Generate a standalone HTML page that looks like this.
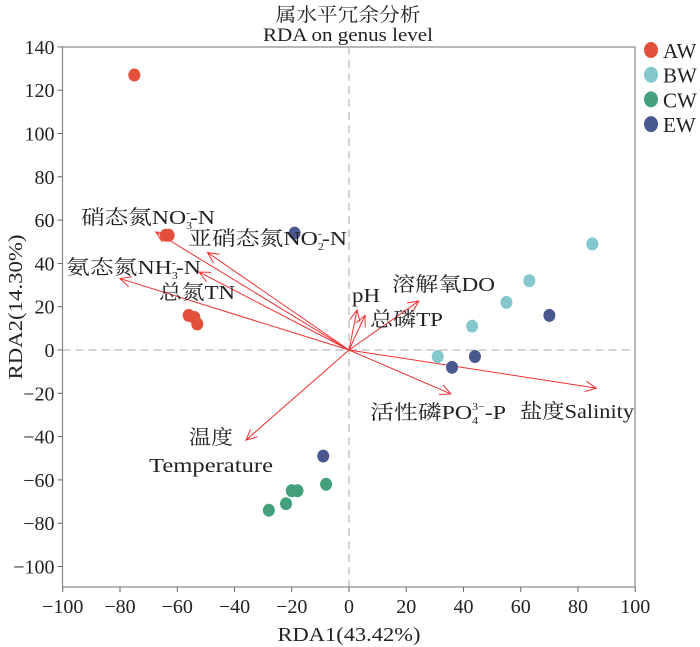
<!DOCTYPE html>
<html><head><meta charset="utf-8"><style>
body{margin:0;background:#fff}
svg{display:block;font-family:"Liberation Serif","Noto Serif CJK SC",serif}
</style></head><body>
<svg id="c" width="700" height="647" xmlns="http://www.w3.org/2000/svg">
<text x="348" y="21" font-size="19" text-anchor="middle" fill="#222" textLength="145" lengthAdjust="spacingAndGlyphs">属水平冗余分析</text>
<text x="348" y="41" font-size="19" text-anchor="middle" fill="#222" textLength="170" lengthAdjust="spacingAndGlyphs">RDA on genus level</text>
<text transform="translate(22,307) rotate(-90)" font-size="20" text-anchor="middle" fill="#222" textLength="145" lengthAdjust="spacingAndGlyphs">RDA2(14.30%)</text>
<text x="349" y="641" font-size="20" text-anchor="middle" fill="#222" textLength="143" lengthAdjust="spacingAndGlyphs">RDA1(43.42%)</text>
<g id="plot"></g>
</svg>
<script>
const xTicks=[-100,-80,-60,-40,-20,0,20,40,60,80,100];
const yTicks=[140,120,100,80,60,40,20,0,-20,-40,-60,-80,-100];
const groups=['AW','BW','CW','EW'];
const colors=['#e2503c','#84c8cd','#44a07c','#4a5890'];
const awX=[-75,-64,-63,-56,-54,-53];
const awY=[127,53,53,16,15,12];
const bwX=[85,63,55,43,31];
const bwY=[49,32,22,11,-3];
const cwX=[-28,-22,-20,-18,-8];
const cwY=[-74,-71,-65,-65,-62];
const ewX=[-19,70,44,36,-9];
const ewY=[54,16,-3,-8,-49];
const arrowNames=['no3','no2','nh3','tn','ph','tp','do','po4','salinity','temperature'];
const arrowX=[-67.5,-49.4,-80,-52.3,2.8,5.6,24.4,35.6,86.4,-36];
const arrowY=[54.5,45,33,36,18.5,16,22.6,-20.3,-17.6,-41.6];

const L=62.5,R=635,T=47,B=587;
const xs=v=>349+(v)*2.8625;
const ys=v=>350-v*2.165;
const NS='http://www.w3.org/2000/svg';
const g=document.getElementById('plot');
function mk(t,a,p){const e=document.createElementNS(NS,t);for(const k in a)e.setAttribute(k,a[k]);(p||g).appendChild(e);return e;}

let fr=mk('rect',{x:L,y:T,width:R-L,height:B-T,fill:'none',stroke:'#888','stroke-width':1.2});


let zx=mk('line',{x1:L,x2:R,y1:ys(0),y2:ys(0),stroke:'#aaa','stroke-dasharray':'8,5'});


let zy=mk('line',{x1:xs(0),x2:xs(0),y1:T,y2:B,stroke:'#aaa','stroke-dasharray':'8,5'});



xTicks.forEach(v=>{
  mk('line',{x1:xs(v),x2:xs(v),y1:B,y2:B+5,stroke:'#666'});
  let t=mk('text',{x:xs(v),y:B+26,'font-size':20,'text-anchor':'middle',fill:'#222'});
  t.textContent=(v<0?'\u2212'+(-v):v);
  
  
});
yTicks.forEach(v=>{
  mk('line',{x1:L-5,x2:L,y1:ys(v),y2:ys(v),stroke:'#666'});
  let t=mk('text',{x:L-8,y:ys(v)+7,'font-size':20,'text-anchor':'end',fill:'#222'});
  t.textContent=(v<0?'\u2212'+(-v):v);
  
  
});

arrowX.forEach((vx,i)=>{
  const x2=xs(vx),y2=ys(arrowY[i]),x1=xs(0),y1=ys(0);
  const a=Math.atan2(y2-y1,x2-x1),h=12,s=0.45;
  const ag=mk('g',{stroke:'#f03030','stroke-width':1,fill:'none'});
  
  
  mk('line',{x1:x1,y1:y1,x2:x2,y2:y2},ag);
  mk('polyline',{points:`${x2-h*Math.cos(a-s)},${y2-h*Math.sin(a-s)} ${x2},${y2} ${x2-h*Math.cos(a+s)},${y2-h*Math.sin(a+s)}`},ag);
});

[[awX,awY],[bwX,bwY],[cwX,cwY],[ewX,ewY]].forEach((s,gi)=>{
  s[0].forEach((vx,j)=>{
    const c=mk('ellipse',{cx:xs(vx),cy:ys(s[1][j]),rx:6,ry:6.5,fill:colors[gi]});
    
    
  });
});

groups.forEach((n,i)=>{
  const y=50+i*24.7;
  const c=mk('ellipse',{cx:651,cy:y,rx:7,ry:8,fill:colors[i]});
  
  
  const t=mk('text',{x:663,y:y+8,'font-size':21,fill:'#222'});
  t.textContent=n;
  
  
});

const labs=[
 ['label-no3',81,224,134,'硝态氮NO<tspan font-size="10" dy="5">3</tspan><tspan font-size="10" dx="-5" dy="-13">-</tspan><tspan dy="8">-N</tspan>'],
 ['label-no2',188,245,159,'亚硝态氮NO<tspan font-size="10" dy="5">2</tspan><tspan font-size="10" dx="-5" dy="-13">-</tspan><tspan dy="8">-N</tspan>'],
 ['label-nh3',66,274,135,'氨态氮NH<tspan font-size="10" dy="5">3</tspan><tspan font-size="10" dx="-5" dy="-13">-</tspan><tspan dy="8">-N</tspan>'],
 ['label-tn',159,299,76,'总氮TN'],
 ['label-ph',352,302,28,'pH'],
 ['label-tp',370,326,73,'总磷TP'],
 ['label-do',392,291,103,'溶解氧DO'],
 ['label-po4',370,419,136,'活性磷PO<tspan font-size="10" dy="5">4</tspan><tspan font-size="10" dx="-5" dy="-14">3−</tspan><tspan dy="9">-P</tspan>'],
 ['label-salinity',520,418,114,'盐度Salinity'],
 ['label-temperature-cn',189,444,44,'温度'],
 ['label-temperature',149,472,124,'Temperature']
];
labs.forEach(l=>{
  const t=mk('text',{x:l[1],y:l[2],'font-size':20,fill:'#222',textLength:l[3],lengthAdjust:'spacingAndGlyphs'});
  t.innerHTML=l[4];
  
  
});
</script>
</body></html>
